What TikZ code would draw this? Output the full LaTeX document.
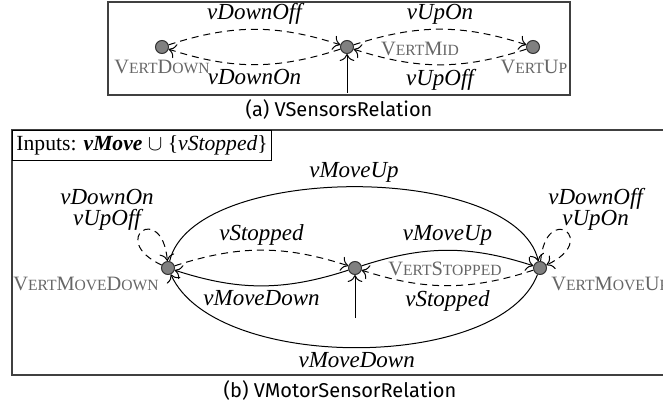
\documentclass[tikz,border=0pt]{standalone}
\usepackage{fontspec}
\setmainfont{Liberation Serif}
\newfontfamily\capfont{Fira Sans}
\usetikzlibrary{arrows.meta}
% small capitals built from scaled capitals
\newcommand\smc[1]{{\fontsize{7.8}{8}\selectfont #1}}

\begin{document}
\begin{tikzpicture}[x=0.5pt,y=0.5pt,
  >={To[scale=1.3]},
  state/.style={circle, draw=black!80, fill=black!50, line width=0.5pt,
    minimum size=6.5pt, inner sep=0pt},
  stname/.style={text=black!60, font=\fontsize{10.2}{11}\selectfont, inner sep=1pt},
  elabel/.style={font=\fontsize{11.5}{10.5}\selectfont\itshape, inner sep=2pt},
  trans/.style={->, line width=0.5pt},
  dtrans/.style={trans, dash pattern=on 3.5pt off 2.5pt},
  frame/.style={draw=black!75, line width=0.8pt},
  capt/.style={font=\capfont\fontsize{10}{12}\selectfont}]
\useasboundingbox (0,0) rectangle (663,407);

% ---------- (a) sensor relation ----------
\draw[frame] (108,312) rectangle (570,405);
\node[state] (vd) at (162,360) {};
\node[state] (vm) at (347,360) {};
\node[state] (vu) at (533,360) {};
\node[stname] (vdname) at (162,340) {V\smc{ERT}D\smc{OWN}};
\node[stname] (vmname) at (420,358) {V\smc{ERT}M\smc{ID}};
\node[stname] (vuname) at (534,340) {V\smc{ERT}U\smc{P}};

\draw[dtrans] (vd) to[bend left=18] node[elabel, above] {vDownOff} (vm);
\draw[dtrans] (vm) to[bend left=18] node[elabel, below] {vDownOn} (vd);
\draw[dtrans] (vm) to[bend left=18] node[elabel, above] {vUpOn} (vu);
\draw[dtrans] (vu) to[bend left=18] node[elabel, below] {vUpOff} (vm);
\coordinate (vmin) at (347,314);
\draw[trans] (vmin) -- (vm);

\node[capt] (capa) at (339,297) {(a) VSensorsRelation};

% ---------- (b) motor/sensor relation ----------
\draw[frame] (700,32) -- (12,32) -- (12,277) -- (700,277);
\node[draw=black, line width=0.5pt, anchor=north west, inner xsep=2pt, inner ysep=2.6pt,
  font=\fontsize{10.8}{13}\selectfont] (inputs) at (12,277)
  {Inputs: \textbf{\textit{vMove}} $\cup$ \{\textit{vStopped}\}};

\node[state] (md) at (168,139) {};
\node[state] (ms) at (355,139) {};
\node[state] (mu) at (540,139) {};
\node[stname] (mdname) at (86,123) {V\smc{ERT}M\smc{OVE}D\smc{OWN}};
\node[stname] (msname) at (445,138) {V\smc{ERT}S\smc{TOPPED}};
\node[stname, anchor=west] (muname) at (549,123) {V\smc{ERT}M\smc{OVE}U\smc{P}};

\draw[dtrans] (md) to[bend left=18] node[elabel, above] {vStopped} (ms);
\draw[trans] (ms) to[bend left=18] node[elabel, below] {vMoveDown} (md);
\draw[trans] (ms) to[bend left=18] node[elabel, above] {vMoveUp} (mu);
\draw[dtrans] (mu) to[bend left=18] node[elabel, below] {vStopped} (ms);
\draw[trans] (md) .. controls (193,245) and (515,245) .. node[elabel, above] {vMoveUp} (mu);
\draw[trans] (mu) .. controls (500,35) and (215,35) .. node[elabel, below] {vMoveDown} (md);

\draw[dtrans] (md) to[out=155, in=95, distance=30pt]
  node[elabel, align=center, anchor=south east, xshift=8pt, yshift=-2pt] {vDownOn\\vUpOff} (md);
\draw[dtrans] (mu) to[out=85, in=25, distance=30pt]
  node[elabel, align=center, anchor=south west, xshift=-11pt, yshift=-2pt] {vDownOff\\vUpOn} (mu);

\coordinate (msin) at (355,89);
\draw[trans] (msin) -- (ms);

\node[capt] (capb) at (340,17) {(b) VMotorSensorRelation};
\end{tikzpicture}
\end{document}
